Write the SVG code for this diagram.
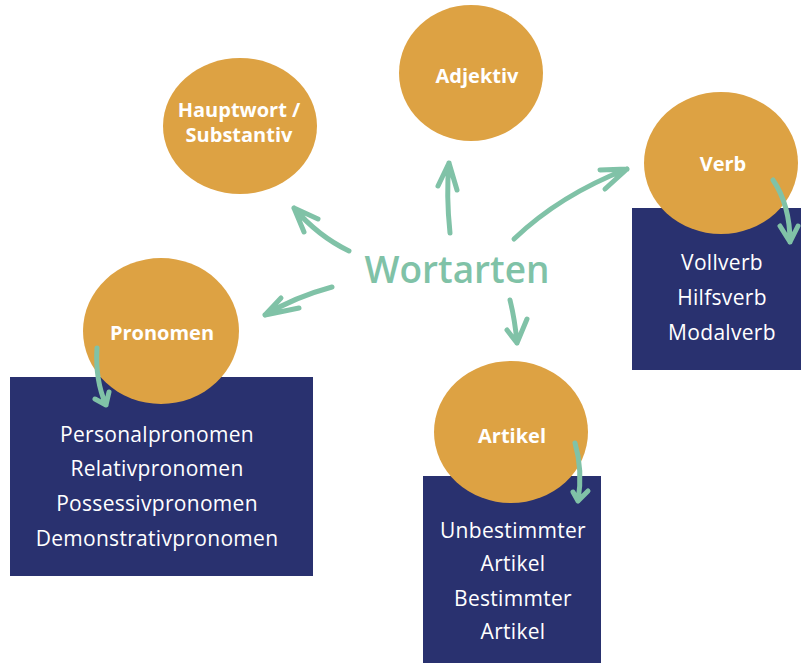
<svg xmlns="http://www.w3.org/2000/svg" width="801" height="663" viewBox="0 0 801 663">
<defs>
<style>
.circ{fill:#dda243}
.box{fill:#29316f}
.lbl{font-family:"Open Sans","Noto Sans",sans-serif;font-weight:700;font-size:20px;fill:#ffffff;text-anchor:middle}
.item{font-family:"Open Sans","Noto Sans",sans-serif;font-size:21px;letter-spacing:0.3px;fill:#ffffff;text-anchor:middle}
.title{font-family:"Open Sans","Noto Sans",sans-serif;font-weight:600;font-size:37px;fill:#80c2a7;text-anchor:middle}
.arr{fill:none;stroke:#80c2a7;stroke-width:5;stroke-linecap:round;stroke-linejoin:round}
</style>
</defs>
<rect width="801" height="663" fill="#ffffff"/>
<g id="hauptwort">
<ellipse class="circ" cx="240" cy="126" rx="77" ry="68"/>
<text class="lbl" x="239" y="117">Hauptwort /</text>
<text class="lbl" x="239" y="142">Substantiv</text>
</g>
<g id="adjektiv">
<ellipse class="circ" cx="471" cy="73" rx="72" ry="68"/>
<text class="lbl" x="477" y="83">Adjektiv</text>
</g>
<g id="verb">
<rect class="box" x="632" y="208" width="169" height="162"/>
<ellipse class="circ" cx="721" cy="163" rx="77" ry="71"/>
<text class="lbl" x="723" y="171">Verb</text>
<text class="item" x="722" y="270">Vollverb</text>
<text class="item" x="722" y="305">Hilfsverb</text>
<text class="item" x="722" y="340">Modalverb</text>
</g>
<g id="pronomen">
<rect class="box" x="10" y="377" width="303" height="199"/>
<ellipse class="circ" cx="161" cy="331" rx="78" ry="73"/>
<text class="lbl" x="162" y="340">Pronomen</text>
<text class="item" x="157" y="442">Personalpronomen</text>
<text class="item" x="157" y="476">Relativpronomen</text>
<text class="item" x="157" y="511">Possessivpronomen</text>
<text class="item" x="157" y="546">Demonstrativpronomen</text>
</g>
<g id="artikel">
<rect class="box" x="423" y="476" width="178" height="187"/>
<ellipse class="circ" cx="511" cy="432" rx="77" ry="71"/>
<text class="lbl" x="512" y="443">Artikel</text>
<text class="item" x="513" y="538">Unbestimmter</text>
<text class="item" x="513" y="571">Artikel</text>
<text class="item" x="513" y="606">Bestimmter</text>
<text class="item" x="513" y="639">Artikel</text>
</g>
<g id="wortarten">
<text class="title" x="457" y="283">Wortarten</text>
</g>
<g id="connectors">
<path class="arr" d="M349,251 Q318,236 294,208 M294,208 L318,219 M294,208 L304,232"/>
<path class="arr" d="M450,233 Q446,195 449,163 M449,163 L438,186 M449,163 L457,190"/>
<path class="arr" d="M332,287 Q295,297 265,315 M265,315 L281,298 M265,315 L299,308"/>
<path class="arr" d="M510,300 Q515,320 517,343 M517,343 L507,330 M517,343 L527,319"/>
<path class="arr" d="M514,239 Q560,195 627,169 M627,169 L600,170 M627,169 L605,189"/>
<path class="arr" d="M773,180 Q790,205 790,242 M790,242 L780,226 M790,242 L798,226"/>
<path class="arr" d="M97,348 Q95,380 106,405 M106,405 L95,399 M106,405 L109,392"/>
<path class="arr" d="M575,443 Q583,470 578,501 M578,501 L573,492 M578,501 L588,491"/>
</g>
</svg>
